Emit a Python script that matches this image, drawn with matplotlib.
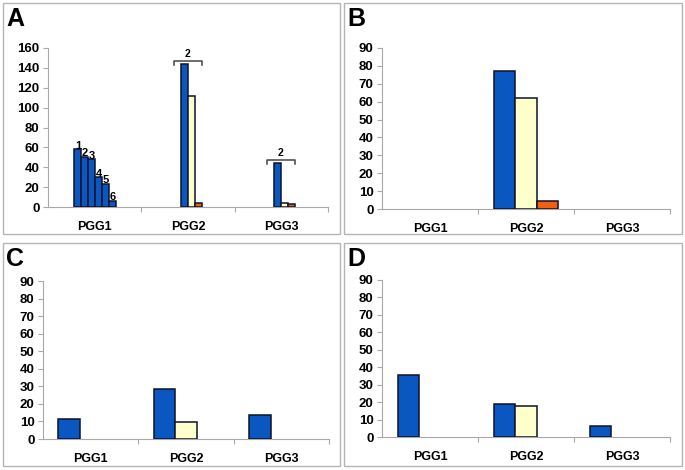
import numpy as np
import matplotlib
matplotlib.use("Agg")
import matplotlib.pyplot as plt
from matplotlib.patches import Rectangle

plt.rcParams['font.family'] = ['Liberation Sans', 'DejaVu Sans']
plt.rcParams['font.weight'] = 'bold'

categories = ['PGG1', 'PGG2', 'PGG3']

# panel A: PGG1 split into 6 bars, PGG2/PGG3 three bars each
a_pgg1 = [58, 50.5, 48, 30, 23.5, 6.5]
a_pgg1_labels = ['1', '2', '3', '4', '5', '6']
a_blue = [143.5, 44]
a_yellow = [112, 4]
a_orange = [4.2, 2.6]
a_bracket_label = '2'

# panels B, C, D
b_blue = [0, 77, 0]
b_yellow = [0, 62, 0]
b_orange = [0, 4.3, 0]

c_blue = [11.5, 28.5, 13.5]
c_yellow = [0, 9.5, 0]
c_orange = [0, 0, 0]

d_blue = [35.3, 18.8, 6.4]
d_yellow = [0, 18, 0]
d_orange = [0, 0, 0]

BLUE = '#0a57c2'
YELLOW = '#ffffcc'
ORANGE = '#f2600f'
EDGE = '#0c1428'
GRAY = '#a8a8a8'

fig = plt.figure(figsize=(6.85, 4.70), dpi=100)
W, H = 685.0, 470.0


def fig_box(x0, y0, x1, y1):
    return [x0 / W, 1 - y1 / H, (x1 - x0) / W, (y1 - y0) / H]


def style_axes(ax, ymax, ystep):
    ax.set_xlim(0.5, 3.5)
    ax.set_ylim(0, ymax)
    ax.set_yticks(np.arange(0, ymax + 1, ystep))
    ax.set_xticks([1, 2, 3])
    ax.set_xticklabels(categories)
    ax.set_xticks([1.5, 2.5, 3.5], minor=True)
    for s in ['top', 'right']:
        ax.spines[s].set_visible(False)
    for s in ['left', 'bottom']:
        ax.spines[s].set_color(GRAY)
        ax.spines[s].set_linewidth(0.8)
    ax.tick_params(axis='y', which='major', length=3.5, width=0.8, color=GRAY,
                   labelsize=9.5, pad=2.5)
    ax.tick_params(axis='x', which='major', length=0, labelsize=9, pad=10)
    ax.tick_params(axis='x', which='minor', length=3.5, width=0.8, color=GRAY)
    for lab in ax.get_xticklabels() + ax.get_yticklabels():
        lab.set_fontweight('bold')


def bars(ax, x, h, color, w):
    x = np.asarray(x, dtype=float)
    h = np.asarray(h, dtype=float)
    keep = h > 0
    ax.bar(x[keep], h[keep], width=w, align='edge', color=color,
           edgecolor=EDGE, linewidth=1.1, zorder=3)


def panel_frame(x0, y0, x1, y1, letter):
    fig.patches.append(Rectangle((x0 / W, 1 - y1 / H), (x1 - x0) / W, (y1 - y0) / H,
                                 transform=fig.transFigure, fill=False,
                                 edgecolor='#b4b4b4', linewidth=1.0))
    fig.text((x0 + 3) / W, 1 - (y0 + 4) / H, letter, fontsize=18,
             fontweight='bold', va='top', ha='left')


panel_frame(3, 3, 340, 234, 'A')
panel_frame(344, 3, 682, 234, 'B')
panel_frame(3, 243, 340, 466, 'C')
panel_frame(344, 243, 682, 466, 'D')

# ---- panel A ----
axA = fig.add_axes(fig_box(48, 48, 328, 207))
style_axes(axA, 160, 20)
bw = 0.075
start = -0.225
x1 = 1 + start + bw * np.arange(len(a_pgg1))
bars(axA, x1, a_pgg1, BLUE, bw)
for xx, v, lab in zip(x1, a_pgg1, a_pgg1_labels):
    axA.text(xx + bw * 0.6, v - 1.5, lab, ha='center', va='bottom', fontsize=8,
             fontweight='bold', zorder=4)
x23 = np.array([2, 3]) + start + 2 * bw
bars(axA, x23, a_blue, BLUE, bw)
bars(axA, x23 + bw, a_yellow, YELLOW, bw)
bars(axA, x23 + 2 * bw, a_orange, ORANGE, bw)
# brackets over PGG2 and PGG3
for xc, top in zip(x23, [a_blue[0], a_blue[1]]):
    xl, xr = xc - 0.08, xc + 0.22
    yt = top + 3.5
    axA.plot([xl, xl, xr, xr], [yt - 4, yt, yt, yt - 4], color='#444444',
             lw=1.1, zorder=4, clip_on=False)
    axA.text((xl + xr) / 2, yt + 1.5, a_bracket_label, ha='center', va='bottom',
             fontsize=7.5, fontweight='bold')

# ---- panels B, C, D ----
bw3 = 0.225
xs = np.arange(1, 4) - 1.5 * bw3
for box, blue, yellow, orange in [
        ((382, 48, 670, 209), b_blue, b_yellow, b_orange),
        ((43, 281, 329, 439), c_blue, c_yellow, c_orange),
        ((382, 280, 670, 437), d_blue, d_yellow, d_orange)]:
    ax = fig.add_axes(fig_box(*box))
    style_axes(ax, 90, 10)
    bars(ax, xs, blue, BLUE, bw3)
    bars(ax, xs + bw3, yellow, YELLOW, bw3)
    bars(ax, xs + 2 * bw3, orange, ORANGE, bw3)

fig.savefig('out.png', dpi=100, facecolor='white')
